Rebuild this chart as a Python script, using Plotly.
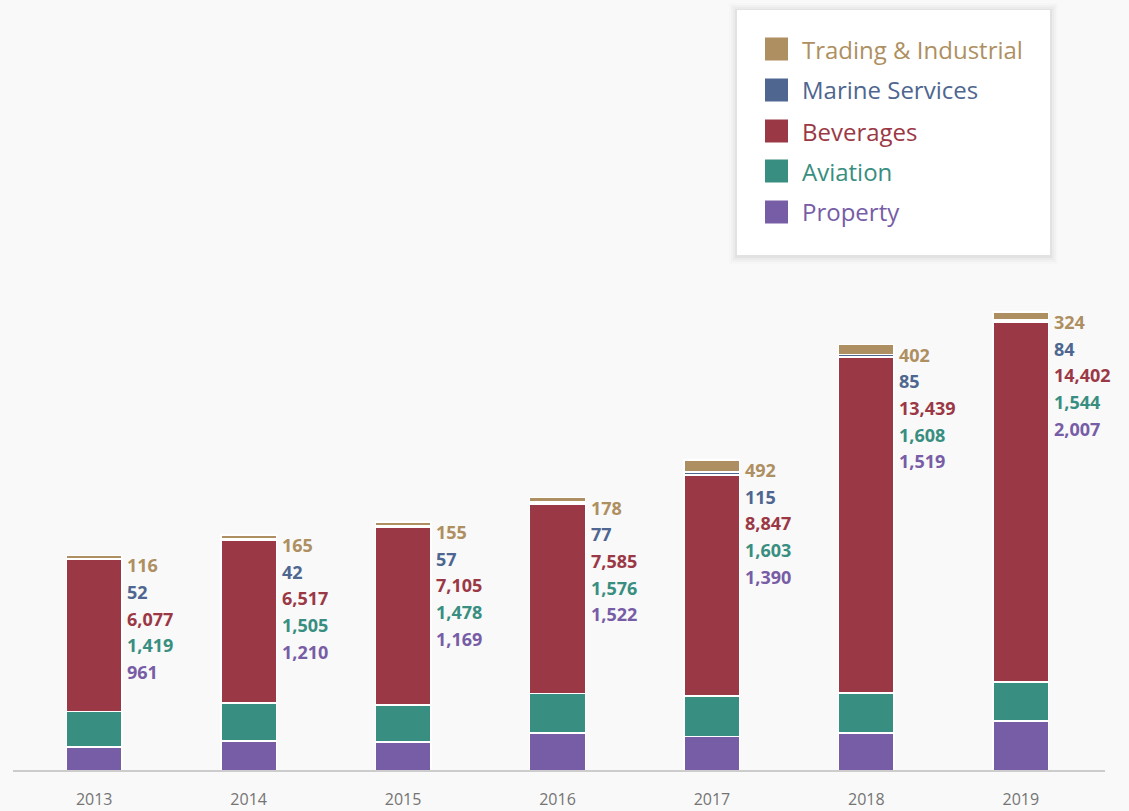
import plotly.graph_objects as go

years = ["2013", "2014", "2015", "2016", "2017", "2018", "2019"]
series_names = ["Trading & Industrial", "Marine Services", "Beverages", "Aviation", "Property"]
trading = [116, 165, 155, 178, 492, 402, 324]
marine = [52, 42, 57, 77, 115, 85, 84]
beverages = [6077, 6517, 7105, 7585, 8847, 13439, 14402]
aviation = [1419, 1505, 1478, 1576, 1603, 1608, 1544]
property_ = [961, 1210, 1169, 1522, 1390, 1519, 2007]

colors = {
    "Trading & Industrial": "#ae8f61",
    "Marine Services": "#4e6690",
    "Beverages": "#9b3845",
    "Aviation": "#388e80",
    "Property": "#775ca6",
}
values = {
    "Trading & Industrial": trading,
    "Marine Services": marine,
    "Beverages": beverages,
    "Aviation": aviation,
    "Property": property_,
}

W, H = 1129, 811
ML, MR, MT, MB = 17, 31, 10, 40
PW, PH = W - ML - MR, H - MT - MB
FONT = "Open Sans, DejaVu Sans, sans-serif"


def px_x(px):
    return (px - ML) / PW


def px_y(py):
    return (H - MB - py) / PH


fig = go.Figure()
for name in reversed(series_names):
    fig.add_trace(go.Bar(
        x=years, y=values[name], name=name,
        marker=dict(color=colors[name], line=dict(color="white", width=1.5)),
        showlegend=False, hoverinfo="x+y+name",
    ))

totals = [sum(values[n][i] for n in series_names) for i in range(len(years))]

annotations = []
for i, yr in enumerate(years):
    for k, name in enumerate(series_names):
        annotations.append(dict(
            x=i, y=totals[i], xref="x", yref="y",
            text=f"<b>{values[name][i]:,}</b>", showarrow=False,
            xanchor="left", yanchor="middle",
            xshift=31, yshift=-(10 + 26.7 * k),
            font=dict(family=FONT, size=18, color=colors[name]),
        ))

shapes = []
# legend shadow
for d, op in [(8, 0.012), (6, 0.018), (4, 0.025), (2, 0.035)]:
    shapes.append(dict(type="rect", xref="paper", yref="paper",
                       x0=px_x(737 - d), x1=px_x(1050 + d),
                       y0=px_y(255 + d + 1), y1=px_y(10 - d + 1),
                       line=dict(width=0), fillcolor=f"rgba(0,0,0,{op})", layer="above"))
shapes.append(dict(type="rect", xref="paper", yref="paper",
                   x0=px_x(737), x1=px_x(1050), y0=px_y(255), y1=px_y(10),
                   line=dict(width=0), fillcolor="white", layer="above"))
row_y = [49, 90, 131, 171, 212]
for k, name in enumerate(series_names):
    cy = row_y[k]
    shapes.append(dict(type="rect", xref="paper", yref="paper",
                       x0=px_x(765), x1=px_x(788), y0=px_y(cy + 11.5), y1=px_y(cy - 11.5),
                       line=dict(width=0), fillcolor=colors[name], layer="above"))
    annotations.append(dict(
        x=px_x(800), y=px_y(cy), xref="paper", yref="paper",
        text=name, showarrow=False, xanchor="left", yanchor="middle",
        font=dict(family=FONT, size=24, color=colors[name]),
    ))

# axis baseline
shapes.append(dict(type="line", xref="paper", yref="paper",
                   x0=px_x(13), x1=px_x(1105), y0=0, y1=0,
                   line=dict(color="#bdbdbd", width=1.5), layer="above"))

fig.update_layout(
    width=W, height=H,
    margin=dict(l=ML, r=MR, t=MT, b=MB),
    barmode="stack", bargap=0.64,
    paper_bgcolor="#f9f9f9", plot_bgcolor="#f9f9f9",
    annotations=annotations, shapes=shapes,
    xaxis=dict(showgrid=False, showline=False, zeroline=False, automargin=False,
               ticks="outside", ticklen=14, tickcolor="rgba(0,0,0,0)",
               tickfont=dict(family=FONT, size=16, color="#747474"),
               range=[-0.5, 6.5]),
    yaxis=dict(showgrid=False, showline=False, zeroline=False, automargin=False,
               showticklabels=False, range=[0, 40.0 * PH]),
    showlegend=False,
)

fig.write_html("out.html",
               config={"displayModeBar": False},
               post_script="document.body.style.margin='0';document.body.style.background='#f9f9f9';")
